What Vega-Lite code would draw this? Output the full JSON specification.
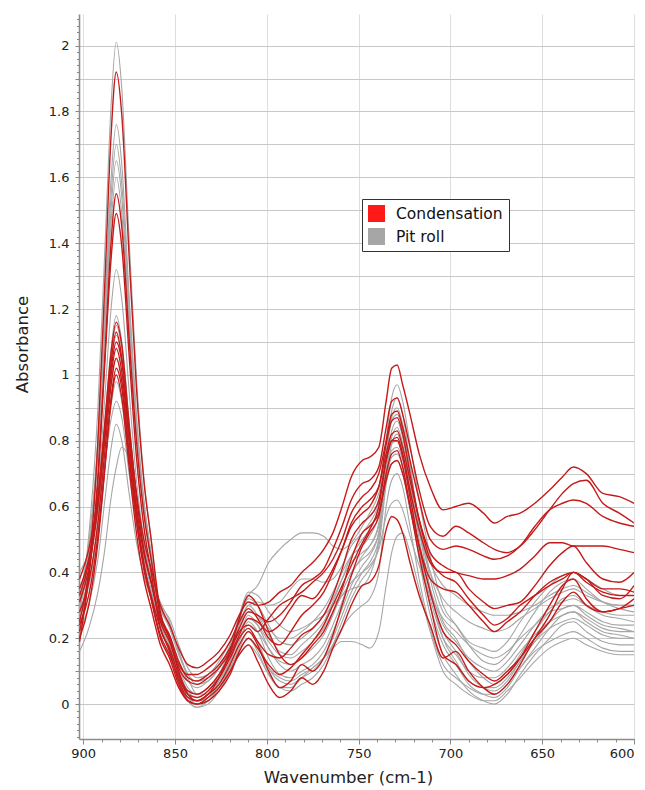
{
"$schema": "https://vega.github.io/schema/vega-lite/v6.json",
"width": 555,
"height": 725,
"autosize": {"type": "none"},
"padding": {"left": 79, "top": 14, "right": 11, "bottom": 51},
"background": "white",
"config": {"view": {"stroke": null}, "font": "DejaVu Sans"},
"datasets": {
"gray": [
{"w":902,"g1":0.30,"g2":0.28,"g3":0.32,"g4":0.29,"g5":0.31,"g6":0.27,"g7":0.30,"g8":0.33,"g9":0.26,"g10":0.35,"g11":0.28,"g12":0.40,"g13":0.16,"g14":0.22},
{"w":897,"g1":0.51,"g2":0.46,"g3":0.49,"g4":0.45,"g5":0.46,"g6":0.40,"g7":0.41,"g8":0.43,"g9":0.36,"g10":0.43,"g11":0.36,"g12":0.46,"g13":0.23,"g14":0.30},
{"w":892,"g1":0.90,"g2":0.80,"g3":0.80,"g4":0.77,"g5":0.76,"g6":0.64,"g7":0.61,"g8":0.62,"g9":0.56,"g10":0.60,"g11":0.53,"g12":0.58,"g13":0.34,"g14":0.44},
{"w":888,"g1":1.41,"g2":1.24,"g3":1.22,"g4":1.17,"g5":1.15,"g6":0.95,"g7":0.87,"g8":0.86,"g9":0.82,"g10":0.81,"g11":0.74,"g12":0.74,"g13":0.48,"g14":0.63},
{"w":885,"g1":1.80,"g2":1.58,"g3":1.53,"g4":1.49,"g5":1.45,"g6":1.19,"g7":1.07,"g8":1.05,"g9":1.02,"g10":0.97,"g11":0.90,"g12":0.86,"g13":0.62,"g14":0.77},
{"w":882,"g1":2.01,"g2":1.76,"g3":1.70,"g4":1.65,"g5":1.60,"g6":1.32,"g7":1.18,"g8":1.15,"g9":1.12,"g10":1.05,"g11":0.98,"g12":0.92,"g13":0.72,"g14":0.85},
{"w":879,"g1":1.87,"g2":1.64,"g3":1.58,"g4":1.54,"g5":1.49,"g6":1.23,"g7":1.10,"g8":1.08,"g9":1.05,"g10":0.99,"g11":0.92,"g12":0.87,"g13":0.78,"g14":0.80},
{"w":875,"g1":1.41,"g2":1.24,"g3":1.21,"g4":1.17,"g5":1.14,"g6":0.95,"g7":0.86,"g8":0.85,"g9":0.81,"g10":0.78,"g11":0.73,"g12":0.70,"g13":0.74,"g14":0.64},
{"w":871,"g1":0.99,"g2":0.88,"g3":0.86,"g4":0.83,"g5":0.82,"g6":0.68,"g7":0.63,"g8":0.64,"g9":0.60,"g10":0.59,"g11":0.55,"g12":0.55,"g13":0.60,"g14":0.49},
{"w":867,"g1":0.69,"g2":0.62,"g3":0.62,"g4":0.59,"g5":0.59,"g6":0.50,"g7":0.48,"g8":0.49,"g9":0.45,"g10":0.46,"g11":0.43,"g12":0.44,"g13":0.47,"g14":0.39},
{"w":863,"g1":0.50,"g2":0.45,"g3":0.46,"g4":0.43,"g5":0.44,"g6":0.37,"g7":0.37,"g8":0.39,"g9":0.35,"g10":0.37,"g11":0.34,"g12":0.37,"g13":0.38,"g14":0.32},
{"w":858,"g1":0.26,"g2":0.25,"g3":0.27,"g4":0.24,"g5":0.29,"g6":0.23,"g7":0.25,"g8":0.30,"g9":0.23,"g10":0.27,"g11":0.25,"g12":0.29,"g13":0.31,"g14":0.24},
{"w":853,"g1":0.19,"g2":0.18,"g3":0.20,"g4":0.17,"g5":0.24,"g6":0.16,"g7":0.19,"g8":0.26,"g9":0.17,"g10":0.21,"g11":0.18,"g12":0.23,"g13":0.25,"g14":0.18},
{"w":848,"g1":0.10,"g2":0.09,"g3":0.10,"g4":0.08,"g5":0.16,"g6":0.07,"g7":0.11,"g8":0.18,"g9":0.09,"g10":0.13,"g11":0.09,"g12":0.15,"g13":0.16,"g14":0.10},
{"w":843,"g1":0.03,"g2":0.02,"g3":0.03,"g4":0.01,"g5":0.09,"g6":0.01,"g7":0.05,"g8":0.11,"g9":0.03,"g10":0.07,"g11":0.02,"g12":0.09,"g13":0.08,"g14":0.04},
{"w":838,"g1":0.00,"g2":0.00,"g3":0.01,"g4":-0.01,"g5":0.06,"g6":-0.01,"g7":0.03,"g8":0.08,"g9":0.01,"g10":0.05,"g11":0.00,"g12":0.07,"g13":0.03,"g14":0.02},
{"w":832,"g1":0.02,"g2":0.02,"g3":0.02,"g4":0.01,"g5":0.07,"g6":0.00,"g7":0.05,"g8":0.09,"g9":0.03,"g10":0.07,"g11":0.01,"g12":0.08,"g13":0.03,"g14":0.04},
{"w":826,"g1":0.06,"g2":0.07,"g3":0.06,"g4":0.05,"g5":0.11,"g6":0.04,"g7":0.09,"g8":0.13,"g9":0.07,"g10":0.11,"g11":0.05,"g12":0.12,"g13":0.06,"g14":0.09},
{"w":820,"g1":0.13,"g2":0.15,"g3":0.12,"g4":0.11,"g5":0.18,"g6":0.10,"g7":0.16,"g8":0.19,"g9":0.13,"g10":0.18,"g11":0.10,"g12":0.17,"g13":0.11,"g14":0.17},
{"w":815,"g1":0.21,"g2":0.24,"g3":0.19,"g4":0.17,"g5":0.26,"g6":0.16,"g7":0.24,"g8":0.25,"g9":0.20,"g10":0.26,"g11":0.16,"g12":0.22,"g13":0.15,"g14":0.27},
{"w":810,"g1":0.27,"g2":0.30,"g3":0.25,"g4":0.22,"g5":0.33,"g6":0.20,"g7":0.28,"g8":0.30,"g9":0.24,"g10":0.32,"g11":0.20,"g12":0.26,"g13":0.18,"g14":0.34},
{"w":805,"g1":0.24,"g2":0.27,"g3":0.22,"g4":0.19,"g5":0.36,"g6":0.16,"g7":0.27,"g8":0.31,"g9":0.22,"g10":0.30,"g11":0.17,"g12":0.24,"g13":0.15,"g14":0.33},
{"w":799,"g1":0.17,"g2":0.21,"g3":0.14,"g4":0.11,"g5":0.43,"g6":0.09,"g7":0.23,"g8":0.30,"g9":0.17,"g10":0.24,"g11":0.11,"g12":0.19,"g13":0.09,"g14":0.28},
{"w":793,"g1":0.12,"g2":0.16,"g3":0.09,"g4":0.07,"g5":0.47,"g6":0.05,"g7":0.20,"g8":0.31,"g9":0.13,"g10":0.19,"g11":0.08,"g12":0.15,"g13":0.05,"g14":0.24},
{"w":787,"g1":0.10,"g2":0.15,"g3":0.08,"g4":0.06,"g5":0.50,"g6":0.04,"g7":0.20,"g8":0.35,"g9":0.12,"g10":0.18,"g11":0.07,"g12":0.14,"g13":0.05,"g14":0.22},
{"w":781,"g1":0.12,"g2":0.18,"g3":0.10,"g4":0.08,"g5":0.52,"g6":0.06,"g7":0.22,"g8":0.38,"g9":0.14,"g10":0.20,"g11":0.09,"g12":0.16,"g13":0.08,"g14":0.23},
{"w":775,"g1":0.14,"g2":0.21,"g3":0.12,"g4":0.10,"g5":0.52,"g6":0.08,"g7":0.25,"g8":0.38,"g9":0.17,"g10":0.23,"g11":0.11,"g12":0.19,"g13":0.11,"g14":0.25},
{"w":769,"g1":0.18,"g2":0.25,"g3":0.16,"g4":0.14,"g5":0.51,"g6":0.12,"g7":0.29,"g8":0.37,"g9":0.21,"g10":0.27,"g11":0.14,"g12":0.23,"g13":0.14,"g14":0.27},
{"w":764,"g1":0.24,"g2":0.31,"g3":0.22,"g4":0.20,"g5":0.48,"g6":0.18,"g7":0.34,"g8":0.38,"g9":0.27,"g10":0.32,"g11":0.18,"g12":0.28,"g13":0.17,"g14":0.30},
{"w":759,"g1":0.31,"g2":0.38,"g3":0.29,"g4":0.27,"g5":0.47,"g6":0.25,"g7":0.40,"g8":0.42,"g9":0.34,"g10":0.38,"g11":0.23,"g12":0.33,"g13":0.19,"g14":0.33},
{"w":754,"g1":0.39,"g2":0.45,"g3":0.36,"g4":0.34,"g5":0.49,"g6":0.32,"g7":0.45,"g8":0.48,"g9":0.40,"g10":0.43,"g11":0.27,"g12":0.37,"g13":0.19,"g14":0.35},
{"w":748,"g1":0.45,"g2":0.50,"g3":0.42,"g4":0.40,"g5":0.54,"g6":0.38,"g7":0.48,"g8":0.52,"g9":0.44,"g10":0.46,"g11":0.30,"g12":0.40,"g13":0.18,"g14":0.36},
{"w":744,"g1":0.48,"g2":0.53,"g3":0.45,"g4":0.43,"g5":0.58,"g6":0.41,"g7":0.51,"g8":0.55,"g9":0.46,"g10":0.48,"g11":0.32,"g12":0.42,"g13":0.17,"g14":0.39},
{"w":739,"g1":0.55,"g2":0.60,"g3":0.52,"g4":0.50,"g5":0.64,"g6":0.48,"g7":0.58,"g8":0.61,"g9":0.52,"g10":0.54,"g11":0.40,"g12":0.47,"g13":0.22,"g14":0.50},
{"w":735,"g1":0.75,"g2":0.80,"g3":0.71,"g4":0.69,"g5":0.74,"g6":0.67,"g7":0.76,"g8":0.72,"g9":0.68,"g10":0.67,"g11":0.60,"g12":0.57,"g13":0.36,"g14":0.75},
{"w":732,"g1":0.87,"g2":0.93,"g3":0.83,"g4":0.81,"g5":0.79,"g6":0.79,"g7":0.86,"g8":0.77,"g9":0.75,"g10":0.73,"g11":0.68,"g12":0.61,"g13":0.46,"g14":0.89},
{"w":729,"g1":0.90,"g2":0.97,"g3":0.86,"g4":0.84,"g5":0.80,"g6":0.82,"g7":0.88,"g8":0.78,"g9":0.76,"g10":0.74,"g11":0.70,"g12":0.62,"g13":0.51,"g14":0.93},
{"w":726,"g1":0.85,"g2":0.92,"g3":0.81,"g4":0.79,"g5":0.76,"g6":0.77,"g7":0.83,"g8":0.74,"g9":0.72,"g10":0.70,"g11":0.66,"g12":0.59,"g13":0.52,"g14":0.88},
{"w":722,"g1":0.72,"g2":0.79,"g3":0.68,"g4":0.65,"g5":0.66,"g6":0.62,"g7":0.71,"g8":0.64,"g9":0.60,"g10":0.59,"g11":0.54,"g12":0.51,"g13":0.46,"g14":0.73},
{"w":717,"g1":0.55,"g2":0.62,"g3":0.50,"g4":0.47,"g5":0.54,"g6":0.44,"g7":0.55,"g8":0.52,"g9":0.46,"g10":0.47,"g11":0.38,"g12":0.42,"g13":0.35,"g14":0.53},
{"w":711,"g1":0.38,"g2":0.45,"g3":0.34,"g4":0.30,"g5":0.43,"g6":0.27,"g7":0.40,"g8":0.40,"g9":0.32,"g10":0.35,"g11":0.23,"g12":0.33,"g13":0.22,"g14":0.35},
{"w":704,"g1":0.25,"g2":0.30,"g3":0.22,"g4":0.18,"g5":0.36,"g6":0.15,"g7":0.28,"g8":0.32,"g9":0.20,"g10":0.24,"g11":0.12,"g12":0.26,"g13":0.10,"g14":0.20},
{"w":697,"g1":0.20,"g2":0.24,"g3":0.16,"g4":0.12,"g5":0.33,"g6":0.09,"g7":0.24,"g8":0.28,"g9":0.15,"g10":0.19,"g11":0.08,"g12":0.22,"g13":0.06,"g14":0.13},
{"w":690,"g1":0.13,"g2":0.18,"g3":0.09,"g4":0.06,"g5":0.30,"g6":0.04,"g7":0.19,"g8":0.25,"g9":0.10,"g10":0.14,"g11":0.05,"g12":0.18,"g13":0.03,"g14":0.07},
{"w":682,"g1":0.08,"g2":0.13,"g3":0.05,"g4":0.03,"g5":0.28,"g6":0.01,"g7":0.17,"g8":0.23,"g9":0.08,"g10":0.11,"g11":0.03,"g12":0.15,"g13":0.01,"g14":0.05},
{"w":676,"g1":0.06,"g2":0.12,"g3":0.04,"g4":0.02,"g5":0.27,"g6":0.00,"g7":0.16,"g8":0.22,"g9":0.08,"g10":0.10,"g11":0.03,"g12":0.14,"g13":0.01,"g14":0.05},
{"w":669,"g1":0.09,"g2":0.15,"g3":0.07,"g4":0.05,"g5":0.27,"g6":0.03,"g7":0.19,"g8":0.23,"g9":0.11,"g10":0.13,"g11":0.06,"g12":0.16,"g13":0.04,"g14":0.08},
{"w":662,"g1":0.15,"g2":0.21,"g3":0.13,"g4":0.11,"g5":0.28,"g6":0.09,"g7":0.25,"g8":0.26,"g9":0.16,"g10":0.18,"g11":0.11,"g12":0.20,"g13":0.08,"g14":0.13},
{"w":654,"g1":0.22,"g2":0.28,"g3":0.19,"g4":0.17,"g5":0.30,"g6":0.15,"g7":0.31,"g8":0.29,"g9":0.21,"g10":0.24,"g11":0.16,"g12":0.24,"g13":0.13,"g14":0.19},
{"w":646,"g1":0.28,"g2":0.34,"g3":0.25,"g4":0.23,"g5":0.33,"g6":0.20,"g7":0.36,"g8":0.32,"g9":0.25,"g10":0.29,"g11":0.19,"g12":0.28,"g13":0.17,"g14":0.23},
{"w":639,"g1":0.32,"g2":0.37,"g3":0.29,"g4":0.27,"g5":0.35,"g6":0.24,"g7":0.39,"g8":0.34,"g9":0.27,"g10":0.31,"g11":0.21,"g12":0.29,"g13":0.19,"g14":0.25},
{"w":633,"g1":0.33,"g2":0.38,"g3":0.30,"g4":0.28,"g5":0.36,"g6":0.25,"g7":0.40,"g8":0.35,"g9":0.28,"g10":0.32,"g11":0.22,"g12":0.30,"g13":0.20,"g14":0.26},
{"w":626,"g1":0.30,"g2":0.35,"g3":0.27,"g4":0.25,"g5":0.34,"g6":0.22,"g7":0.38,"g8":0.33,"g9":0.26,"g10":0.30,"g11":0.20,"g12":0.28,"g13":0.18,"g14":0.24},
{"w":617,"g1":0.27,"g2":0.31,"g3":0.24,"g4":0.22,"g5":0.31,"g6":0.19,"g7":0.35,"g8":0.31,"g9":0.23,"g10":0.28,"g11":0.17,"g12":0.25,"g13":0.16,"g14":0.21},
{"w":608,"g1":0.26,"g2":0.29,"g3":0.23,"g4":0.21,"g5":0.30,"g6":0.18,"g7":0.33,"g8":0.30,"g9":0.22,"g10":0.27,"g11":0.16,"g12":0.24,"g13":0.15,"g14":0.20},
{"w":600,"g1":0.25,"g2":0.28,"g3":0.22,"g4":0.20,"g5":0.30,"g6":0.18,"g7":0.33,"g8":0.30,"g9":0.22,"g10":0.27,"g11":0.16,"g12":0.24,"g13":0.15,"g14":0.20}
],
"red": [
{"w":902,"r1":0.38,"r2":0.22,"r3":0.33,"r4":0.25,"r5":0.28,"r6":0.19,"r7":0.31,"r8":0.20,"r9":0.24,"r10":0.35},
{"w":897,"r1":0.47,"r2":0.38,"r3":0.43,"r4":0.40,"r5":0.37,"r6":0.40,"r7":0.41,"r8":0.30,"r9":0.33,"r10":0.44},
{"w":892,"r1":0.63,"r2":0.69,"r3":0.62,"r4":0.68,"r5":0.55,"r6":0.80,"r7":0.60,"r8":0.49,"r9":0.51,"r10":0.61},
{"w":888,"r1":0.85,"r2":1.08,"r3":0.87,"r4":1.06,"r5":0.78,"r6":1.31,"r7":0.84,"r8":0.73,"r9":0.73,"r10":0.82},
{"w":885,"r1":1.01,"r2":1.39,"r3":1.06,"r4":1.34,"r5":0.96,"r6":1.71,"r7":1.03,"r8":0.92,"r9":0.91,"r10":0.99},
{"w":882,"r1":1.10,"r2":1.55,"r3":1.16,"r4":1.49,"r5":1.05,"r6":1.92,"r7":1.13,"r8":1.02,"r9":1.00,"r10":1.08},
{"w":879,"r1":1.04,"r2":1.45,"r3":1.09,"r4":1.39,"r5":0.98,"r6":1.79,"r7":1.05,"r8":0.96,"r9":0.93,"r10":1.01},
{"w":875,"r1":0.83,"r2":1.11,"r3":0.85,"r4":1.06,"r5":0.76,"r6":1.36,"r7":0.81,"r8":0.75,"r9":0.72,"r10":0.80},
{"w":871,"r1":0.64,"r2":0.80,"r3":0.63,"r4":0.75,"r5":0.56,"r6":0.96,"r7":0.58,"r8":0.56,"r9":0.52,"r10":0.60},
{"w":867,"r1":0.50,"r2":0.58,"r3":0.47,"r4":0.54,"r5":0.41,"r6":0.68,"r7":0.43,"r8":0.42,"r9":0.38,"r10":0.46},
{"w":863,"r1":0.41,"r2":0.44,"r3":0.37,"r4":0.40,"r5":0.32,"r6":0.50,"r7":0.32,"r8":0.33,"r9":0.29,"r10":0.37},
{"w":858,"r1":0.30,"r2":0.27,"r3":0.25,"r4":0.23,"r5":0.21,"r6":0.28,"r7":0.20,"r8":0.23,"r9":0.18,"r10":0.26},
{"w":853,"r1":0.24,"r2":0.21,"r3":0.19,"r4":0.17,"r5":0.15,"r6":0.20,"r7":0.14,"r8":0.16,"r9":0.12,"r10":0.20},
{"w":848,"r1":0.17,"r2":0.13,"r3":0.11,"r4":0.09,"r5":0.08,"r6":0.10,"r7":0.06,"r8":0.07,"r9":0.05,"r10":0.12},
{"w":843,"r1":0.12,"r2":0.08,"r3":0.07,"r4":0.04,"r5":0.03,"r6":0.03,"r7":0.01,"r8":0.02,"r9":0.01,"r10":0.09},
{"w":838,"r1":0.11,"r2":0.07,"r3":0.06,"r4":0.03,"r5":0.02,"r6":0.01,"r7":0.00,"r8":0.01,"r9":0.00,"r10":0.09},
{"w":832,"r1":0.13,"r2":0.09,"r3":0.08,"r4":0.05,"r5":0.04,"r6":0.03,"r7":0.02,"r8":0.03,"r9":0.01,"r10":0.11},
{"w":826,"r1":0.16,"r2":0.12,"r3":0.11,"r4":0.09,"r5":0.08,"r6":0.08,"r7":0.05,"r8":0.06,"r9":0.04,"r10":0.14},
{"w":820,"r1":0.21,"r2":0.17,"r3":0.16,"r4":0.15,"r5":0.14,"r6":0.16,"r7":0.10,"r8":0.12,"r9":0.09,"r10":0.19},
{"w":815,"r1":0.27,"r2":0.23,"r3":0.22,"r4":0.21,"r5":0.20,"r6":0.26,"r7":0.15,"r8":0.18,"r9":0.16,"r10":0.25},
{"w":810,"r1":0.31,"r2":0.28,"r3":0.24,"r4":0.26,"r5":0.23,"r6":0.33,"r7":0.18,"r8":0.22,"r9":0.20,"r10":0.29},
{"w":805,"r1":0.30,"r2":0.27,"r3":0.22,"r4":0.25,"r5":0.19,"r6":0.30,"r7":0.13,"r8":0.18,"r9":0.17,"r10":0.26},
{"w":799,"r1":0.31,"r2":0.25,"r3":0.26,"r4":0.22,"r5":0.15,"r6":0.22,"r7":0.06,"r8":0.10,"r9":0.12,"r10":0.20},
{"w":793,"r1":0.34,"r2":0.27,"r3":0.30,"r4":0.24,"r5":0.14,"r6":0.15,"r7":0.02,"r8":0.05,"r9":0.09,"r10":0.18},
{"w":787,"r1":0.36,"r2":0.31,"r3":0.32,"r4":0.29,"r5":0.17,"r6":0.12,"r7":0.04,"r8":0.07,"r9":0.11,"r10":0.22},
{"w":781,"r1":0.40,"r2":0.36,"r3":0.34,"r4":0.33,"r5":0.21,"r6":0.14,"r7":0.08,"r8":0.12,"r9":0.15,"r10":0.27},
{"w":775,"r1":0.43,"r2":0.38,"r3":0.37,"r4":0.32,"r5":0.23,"r6":0.18,"r7":0.06,"r8":0.10,"r9":0.19,"r10":0.30},
{"w":769,"r1":0.47,"r2":0.41,"r3":0.40,"r4":0.36,"r5":0.27,"r6":0.22,"r7":0.10,"r8":0.14,"r9":0.24,"r10":0.34},
{"w":764,"r1":0.52,"r2":0.47,"r3":0.44,"r4":0.41,"r5":0.33,"r6":0.28,"r7":0.17,"r8":0.21,"r9":0.30,"r10":0.40},
{"w":759,"r1":0.60,"r2":0.54,"r3":0.50,"r4":0.47,"r5":0.41,"r6":0.35,"r7":0.23,"r8":0.30,"r9":0.36,"r10":0.47},
{"w":754,"r1":0.69,"r2":0.62,"r3":0.58,"r4":0.54,"r5":0.50,"r6":0.44,"r7":0.30,"r8":0.39,"r9":0.42,"r10":0.55},
{"w":748,"r1":0.74,"r2":0.67,"r3":0.63,"r4":0.58,"r5":0.55,"r6":0.52,"r7":0.36,"r8":0.48,"r9":0.49,"r10":0.60},
{"w":744,"r1":0.75,"r2":0.68,"r3":0.65,"r4":0.60,"r5":0.57,"r6":0.54,"r7":0.37,"r8":0.52,"r9":0.53,"r10":0.62},
{"w":739,"r1":0.78,"r2":0.72,"r3":0.70,"r4":0.66,"r5":0.62,"r6":0.58,"r7":0.42,"r8":0.57,"r9":0.60,"r10":0.66},
{"w":735,"r1":0.92,"r2":0.84,"r3":0.80,"r4":0.76,"r5":0.74,"r6":0.68,"r7":0.53,"r8":0.70,"r9":0.74,"r10":0.79},
{"w":732,"r1":1.02,"r2":0.92,"r3":0.88,"r4":0.82,"r5":0.80,"r6":0.73,"r7":0.57,"r8":0.76,"r9":0.80,"r10":0.86},
{"w":729,"r1":1.03,"r2":0.93,"r3":0.89,"r4":0.83,"r5":0.81,"r6":0.74,"r7":0.56,"r8":0.77,"r9":0.80,"r10":0.87},
{"w":726,"r1":0.97,"r2":0.88,"r3":0.84,"r4":0.78,"r5":0.76,"r6":0.70,"r7":0.52,"r8":0.72,"r9":0.75,"r10":0.82},
{"w":722,"r1":0.88,"r2":0.78,"r3":0.74,"r4":0.68,"r5":0.65,"r6":0.60,"r7":0.43,"r8":0.60,"r9":0.63,"r10":0.70},
{"w":717,"r1":0.76,"r2":0.65,"r3":0.62,"r4":0.56,"r5":0.53,"r6":0.48,"r7":0.33,"r8":0.45,"r9":0.48,"r10":0.56},
{"w":711,"r1":0.66,"r2":0.54,"r3":0.50,"r4":0.46,"r5":0.43,"r6":0.38,"r7":0.24,"r8":0.30,"r9":0.34,"r10":0.44},
{"w":704,"r1":0.59,"r2":0.51,"r3":0.47,"r4":0.42,"r5":0.40,"r6":0.35,"r7":0.14,"r8":0.15,"r9":0.22,"r10":0.39},
{"w":697,"r1":0.60,"r2":0.54,"r3":0.48,"r4":0.40,"r5":0.40,"r6":0.34,"r7":0.16,"r8":0.12,"r9":0.18,"r10":0.37},
{"w":690,"r1":0.61,"r2":0.52,"r3":0.47,"r4":0.39,"r5":0.35,"r6":0.30,"r7":0.10,"r8":0.07,"r9":0.13,"r10":0.32},
{"w":682,"r1":0.58,"r2":0.49,"r3":0.45,"r4":0.38,"r5":0.31,"r6":0.25,"r7":0.05,"r8":0.05,"r9":0.09,"r10":0.27},
{"w":676,"r1":0.55,"r2":0.47,"r3":0.44,"r4":0.38,"r5":0.29,"r6":0.22,"r7":0.03,"r8":0.06,"r9":0.07,"r10":0.24},
{"w":669,"r1":0.57,"r2":0.46,"r3":0.45,"r4":0.39,"r5":0.30,"r6":0.25,"r7":0.06,"r8":0.09,"r9":0.10,"r10":0.26},
{"w":662,"r1":0.58,"r2":0.48,"r3":0.48,"r4":0.41,"r5":0.31,"r6":0.28,"r7":0.12,"r8":0.14,"r9":0.14,"r10":0.30},
{"w":654,"r1":0.61,"r2":0.53,"r3":0.54,"r4":0.45,"r5":0.36,"r6":0.33,"r7":0.20,"r8":0.22,"r9":0.20,"r10":0.33},
{"w":646,"r1":0.65,"r2":0.59,"r3":0.59,"r4":0.49,"r5":0.42,"r6":0.37,"r7":0.27,"r8":0.30,"r9":0.25,"r10":0.36},
{"w":639,"r1":0.69,"r2":0.64,"r3":0.61,"r4":0.49,"r5":0.46,"r6":0.39,"r7":0.35,"r8":0.36,"r9":0.31,"r10":0.38},
{"w":633,"r1":0.72,"r2":0.67,"r3":0.62,"r4":0.48,"r5":0.48,"r6":0.40,"r7":0.40,"r8":0.38,"r9":0.34,"r10":0.40},
{"w":626,"r1":0.70,"r2":0.68,"r3":0.61,"r4":0.48,"r5":0.43,"r6":0.38,"r7":0.38,"r8":0.32,"r9":0.30,"r10":0.37},
{"w":617,"r1":0.64,"r2":0.61,"r3":0.57,"r4":0.48,"r5":0.38,"r6":0.35,"r7":0.33,"r8":0.28,"r9":0.28,"r10":0.34},
{"w":608,"r1":0.63,"r2":0.58,"r3":0.55,"r4":0.47,"r5":0.37,"r6":0.35,"r7":0.32,"r8":0.29,"r9":0.29,"r10":0.33},
{"w":600,"r1":0.61,"r2":0.55,"r3":0.54,"r4":0.46,"r5":0.40,"r6":0.34,"r7":0.36,"r8":0.32,"r9":0.30,"r10":0.33}
]
},
"layer": [
{
"data": {"name": "gray"},
"transform": [{"fold": ["g1","g2","g3","g4","g5","g6","g7","g8","g9","g10","g11","g12","g13","g14"], "as": ["series", "a"]}],
"mark": {"type": "line", "strokeWidth": 1.1, "interpolate": "monotone", "clip": true},
"encoding": {
"x": {"field": "w", "type": "quantitative", "scale": {"domain": [902.3, 600], "nice": false, "zero": false},
"axis": {"values": [900,850,800,750,700,650,600], "format": "d", "grid": true, "gridColor": "#dedede", "gridWidth": 1, "tickSize": 5, "tickColor": "#888888", "domainColor": "#8c8c8c", "domainWidth": 1.3, "labelFontSize": 13, "labelColor": "#222222", "labelPadding": 3, "title": "Wavenumber (cm-1)", "titleFontSize": 16.5, "titleFontWeight": "normal", "titleColor": "#222222", "titleX": 269, "titleY": 43, "titleBaseline": "alphabetic"}},
"y": {"field": "a", "type": "quantitative", "scale": {"domain": [-0.106, 2.096], "nice": false, "zero": false},
"axis": {"values": [0,0.1,0.2,0.3,0.4,0.5,0.6,0.7,0.8,0.9,1,1.1,1.2,1.3,1.4,1.5,1.6,1.7,1.8,1.9,2], "format": "~g", "labelExpr": "abs(round(datum.value*10)) % 2 == 0 ? datum.label : ''", "grid": true, "gridColor": "#c8c8c8", "gridWidth": 1, "tickSize": 4, "tickColor": "#888888", "domainColor": "#8c8c8c", "domainWidth": 1.6, "labelFontSize": 13, "labelColor": "#222222", "labelPadding": 6, "title": "Absorbance", "titleFontSize": 16.5, "titleFontWeight": "normal", "titleColor": "#222222", "titleX": -57, "titleY": 330, "titleBaseline": "middle"}},
"detail": {"field": "series"},
"color": {"datum": "Pit roll", "type": "nominal",
"scale": {"domain": ["Condensation", "Pit roll"], "range": ["#c41a1a", "#a6a6a6"]},
"legend": {"orient": "none", "legendX": 283, "legendY": 185, "title": null, "direction": "vertical", "strokeColor": "#333333", "fillColor": "#ffffff", "padding": 6, "symbolType": "square", "symbolSize": 289, "labelFontSize": 15.5, "labelColor": "#111111", "labelOffset": 11, "rowPadding": 6,
"encode": {"symbols": {"update": {"fill": {"signal": "datum.value === 'Condensation' ? '#ff1a1a' : '#a6a6a6'"}, "fillOpacity": {"value": 1}, "stroke": {"value": "transparent"}, "strokeWidth": {"value": 0}}}}}}
}
},
{
"data": {"name": "red"},
"transform": [{"fold": ["r1","r2","r3","r4","r5","r6","r7","r8","r9","r10"], "as": ["series", "a"]}],
"mark": {"type": "line", "strokeWidth": 1.4, "interpolate": "monotone", "clip": true},
"encoding": {
"x": {"field": "w", "type": "quantitative",
"axis": {"orient": "bottom", "values": [900,890,880,870,860,850,840,830,820,810,800,790,780,770,760,750,740,730,720,710,700,690,680,670,660,650,640,630,620,610,600], "labels": false, "grid": false, "domain": false, "tickSize": 3, "tickColor": "#888888", "title": null}},
"y": {"field": "a", "type": "quantitative",
"axis": {"orient": "left", "values": [-0.1,-0.08,-0.06,-0.04,-0.02,0,0.02,0.04,0.06,0.08,0.1,0.12,0.14,0.16,0.18,0.2,0.22,0.24,0.26,0.28,0.3,0.32,0.34,0.36,0.38,0.4,0.42,0.44,0.46,0.48,0.5,0.52,0.54,0.56,0.58,0.6,0.62,0.64,0.66,0.68,0.7,0.72,0.74,0.76,0.78,0.8,0.82,0.84,0.86,0.88,0.9,0.92,0.94,0.96,0.98,1,1.02,1.04,1.06,1.08,1.1,1.12,1.14,1.16,1.18,1.2,1.22,1.24,1.26,1.28,1.3,1.32,1.34,1.36,1.38,1.4,1.42,1.44,1.46,1.48,1.5,1.52,1.54,1.56,1.58,1.6,1.62,1.64,1.66,1.68,1.7,1.72,1.74,1.76,1.78,1.8,1.82,1.84,1.86,1.88,1.9,1.92,1.94,1.96,1.98,2,2.02,2.04,2.06,2.08], "labels": false, "grid": false, "domain": false, "tickSize": 2.5, "tickColor": "#888888", "title": null}},
"detail": {"field": "series"},
"color": {"datum": "Condensation", "type": "nominal"}
}
}
],
"resolve": {"axis": {"x": "independent", "y": "independent"}}
}
